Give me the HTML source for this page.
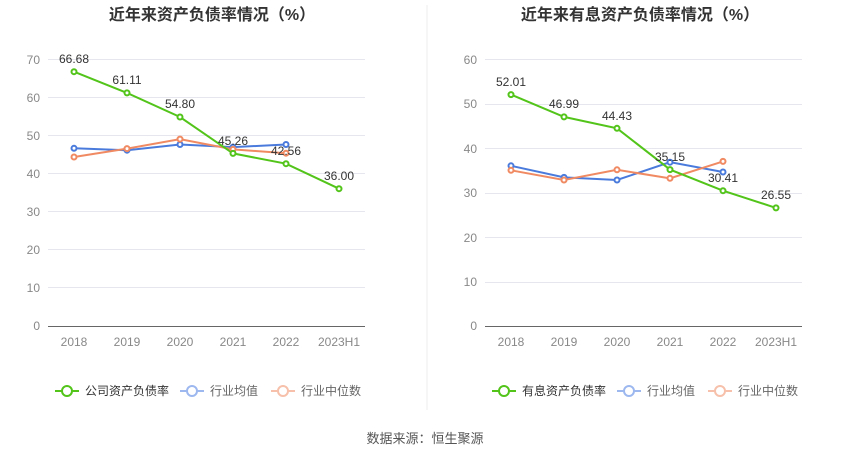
<!DOCTYPE html>
<html><head><meta charset="utf-8"><style>
body{margin:0;background:#fff;}
svg text{font-family:"Liberation Sans","Noto Sans CJK SC",sans-serif;}
</style></head><body>
<svg width="850" height="459" xmlns="http://www.w3.org/2000/svg">
<rect width="850" height="459" fill="#fff"/>
<line x1="427" y1="5" x2="427" y2="410" stroke="#eee"/>
<text x="212" y="20" text-anchor="middle" font-size="16" font-weight="bold" fill="#333">近年来资产负债率情况（%）</text>
<text x="640" y="20" text-anchor="middle" font-size="16" font-weight="bold" fill="#333">近年来有息资产负债率情况（%）</text>
<g stroke="#e6e6ee" stroke-width="1">
<line x1="48" x2="365" y1="59.5" y2="59.5"/><line x1="48" x2="365" y1="97.5" y2="97.5"/><line x1="48" x2="365" y1="135.5" y2="135.5"/><line x1="48" x2="365" y1="173.5" y2="173.5"/><line x1="48" x2="365" y1="211.5" y2="211.5"/><line x1="48" x2="365" y1="249.5" y2="249.5"/><line x1="48" x2="365" y1="287.5" y2="287.5"/>
<line x1="485" x2="802" y1="59.5" y2="59.5"/><line x1="485" x2="802" y1="104.5" y2="104.5"/><line x1="485" x2="802" y1="148.5" y2="148.5"/><line x1="485" x2="802" y1="193.5" y2="193.5"/><line x1="485" x2="802" y1="237.5" y2="237.5"/><line x1="485" x2="802" y1="282.5" y2="282.5"/>
</g>
<line x1="48" x2="365" y1="326.5" y2="326.5" stroke="#666"/>
<line x1="485" x2="802" y1="326.5" y2="326.5" stroke="#666"/>
<g font-size="12" fill="#888" text-anchor="end">
<text x="40" y="64">70</text><text x="40" y="102">60</text><text x="40" y="140">50</text><text x="40" y="178">40</text><text x="40" y="216">30</text><text x="40" y="254">20</text><text x="40" y="292">10</text><text x="40" y="330">0</text>
<text x="477" y="64">60</text><text x="477" y="108">50</text><text x="477" y="153">40</text><text x="477" y="197">30</text><text x="477" y="242">20</text><text x="477" y="286">10</text><text x="477" y="330">0</text>
</g>
<g font-size="12" fill="#888" text-anchor="middle">
<text x="74" y="346">2018</text><text x="127" y="346">2019</text><text x="180" y="346">2020</text><text x="233" y="346">2021</text><text x="286" y="346">2022</text><text x="339" y="346">2023H1</text>
<text x="511" y="346">2018</text><text x="564" y="346">2019</text><text x="617" y="346">2020</text><text x="670" y="346">2021</text><text x="723" y="346">2022</text><text x="776" y="346">2023H1</text>
</g>
<g fill="#fff" stroke-width="2">
<polyline fill="none" stroke="#4a7bdc" points="74,148.3 127,150.2 180,144.5 233,147.1 286,144.5"/>
<polyline fill="none" stroke="#f08a63" points="74,157 127,148.6 180,139.1 233,149.4 286,153.2"/>
<polyline fill="none" stroke="#52c41a" points="74,71.7 127,92.9 180,117 233,153.4 286,163.7 339,188.7"/>
<g stroke="#4a7bdc"><circle cx="74" cy="148.3" r="2.5"/><circle cx="127" cy="150.2" r="2.5"/><circle cx="180" cy="144.5" r="2.5"/><circle cx="233" cy="147.1" r="2.5"/><circle cx="286" cy="144.5" r="2.5"/></g>
<g stroke="#f08a63"><circle cx="74" cy="157" r="2.5"/><circle cx="127" cy="148.6" r="2.5"/><circle cx="180" cy="139.1" r="2.5"/><circle cx="233" cy="149.4" r="2.5"/><circle cx="286" cy="153.2" r="2.5"/></g>
<g stroke="#52c41a"><circle cx="74" cy="71.7" r="2.5"/><circle cx="127" cy="92.9" r="2.5"/><circle cx="180" cy="117" r="2.5"/><circle cx="233" cy="153.4" r="2.5"/><circle cx="286" cy="163.7" r="2.5"/><circle cx="339" cy="188.7" r="2.5"/></g>
<polyline fill="none" stroke="#4a7bdc" points="511,165.8 564,177.4 617,180 670,162.2 723,172"/>
<polyline fill="none" stroke="#f08a63" points="511,170.3 564,180 617,169.8 670,178.3 723,161.4"/>
<polyline fill="none" stroke="#52c41a" points="511,94.6 564,116.9 617,128.3 670,169.6 723,190.7 776,207.9"/>
<g stroke="#4a7bdc"><circle cx="511" cy="165.8" r="2.5"/><circle cx="564" cy="177.4" r="2.5"/><circle cx="617" cy="180" r="2.5"/><circle cx="670" cy="162.2" r="2.5"/><circle cx="723" cy="172" r="2.5"/></g>
<g stroke="#f08a63"><circle cx="511" cy="170.3" r="2.5"/><circle cx="564" cy="180" r="2.5"/><circle cx="617" cy="169.8" r="2.5"/><circle cx="670" cy="178.3" r="2.5"/><circle cx="723" cy="161.4" r="2.5"/></g>
<g stroke="#52c41a"><circle cx="511" cy="94.6" r="2.5"/><circle cx="564" cy="116.9" r="2.5"/><circle cx="617" cy="128.3" r="2.5"/><circle cx="670" cy="169.6" r="2.5"/><circle cx="723" cy="190.7" r="2.5"/><circle cx="776" cy="207.9" r="2.5"/></g>
</g>
<g font-size="12" fill="#333" text-anchor="middle">
<text x="74" y="63">66.68</text><text x="127" y="84">61.11</text><text x="180" y="108">54.80</text><text x="233" y="145">45.26</text><text x="286" y="155">42.56</text><text x="339" y="180">36.00</text>
<text x="511" y="86">52.01</text><text x="564" y="108">46.99</text><text x="617" y="120">44.43</text><text x="670" y="161">35.15</text><text x="723" y="182">30.41</text><text x="776" y="199">26.55</text>
</g>
<g font-size="12" fill="#333">
<line x1="55" x2="79" y1="391" y2="391" stroke="#52c41a" stroke-width="2"/><circle cx="67" cy="391" r="5" fill="#fff" stroke="#52c41a" stroke-width="2"/><text x="85" y="395">公司资产负债率</text>
<line x1="180" x2="204" y1="391" y2="391" stroke="#9db8ef" stroke-width="2"/><circle cx="192" cy="391" r="5" fill="#fff" stroke="#9db8ef" stroke-width="2"/><text x="210" y="395" fill="#666">行业均值</text>
<line x1="271" x2="295" y1="391" y2="391" stroke="#f6c0aa" stroke-width="2"/><circle cx="283" cy="391" r="5" fill="#fff" stroke="#f6c0aa" stroke-width="2"/><text x="301" y="395" fill="#666">行业中位数</text>
<line x1="492" x2="516" y1="391" y2="391" stroke="#52c41a" stroke-width="2"/><circle cx="504" cy="391" r="5" fill="#fff" stroke="#52c41a" stroke-width="2"/><text x="522" y="395">有息资产负债率</text>
<line x1="617" x2="641" y1="391" y2="391" stroke="#9db8ef" stroke-width="2"/><circle cx="629" cy="391" r="5" fill="#fff" stroke="#9db8ef" stroke-width="2"/><text x="647" y="395" fill="#666">行业均值</text>
<line x1="708" x2="732" y1="391" y2="391" stroke="#f6c0aa" stroke-width="2"/><circle cx="720" cy="391" r="5" fill="#fff" stroke="#f6c0aa" stroke-width="2"/><text x="738" y="395" fill="#666">行业中位数</text>
</g>
<text x="425" y="443" text-anchor="middle" font-size="13" fill="#555">数据来源：恒生聚源</text>
</svg>
</body></html>
